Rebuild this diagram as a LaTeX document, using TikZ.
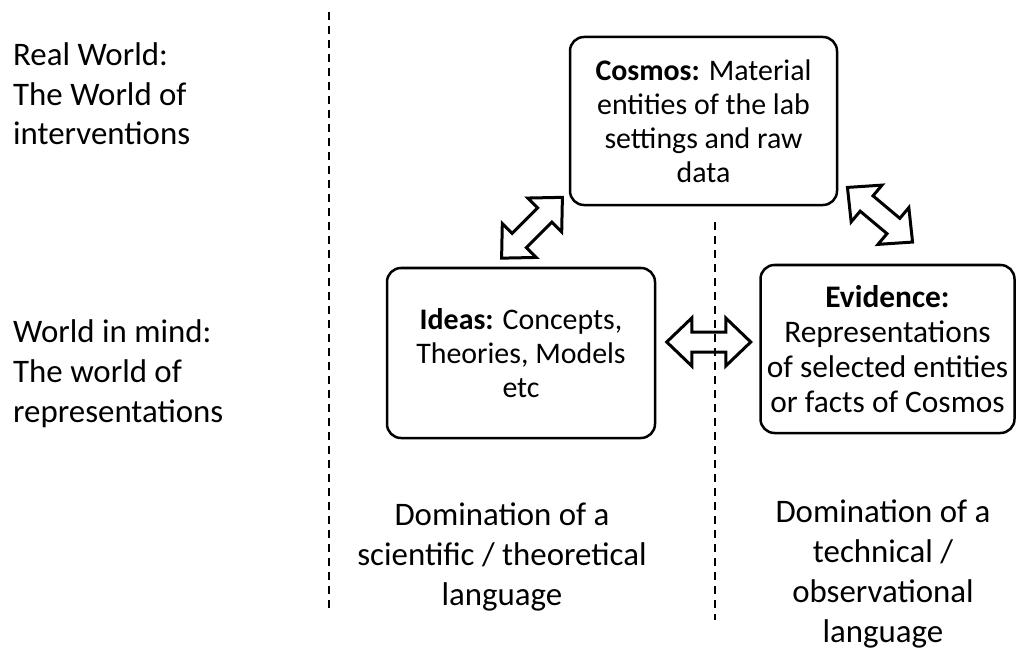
\documentclass[tikz,border=0pt]{standalone}
\usepackage{fontspec}
\setmainfont{Carlito}
\usetikzlibrary{positioning,calc}

\tikzset{
  box/.style={draw, line width=2.5bp, rounded corners=14bp, align=center,
    inner sep=0pt, font=\fontsize{30}{34}\selectfont},
  side/.style={align=left, inner sep=0pt, anchor=base west,
    font=\fontsize{33}{40}\selectfont},
  lang/.style={align=center, inner sep=0pt, anchor=base,
    font=\fontsize{33}{40}\selectfont},
  divider/.style={line width=2.5bp, dash pattern=on 8bp off 6bp},
  arrowline/.style={draw, fill=white, line width=3bp, line join=miter},
  dblarrow/.pic={
    \pgfmathsetmacro\halflen{#1/2}
    \path[arrowline] (-\halflen,0) -- ++(25,24) -- ++(0,-14)
      -- (\halflen-25,10) -- ++(0,14) -- (\halflen,0) -- ++(-25,-24)
      -- ++(0,14) -- (-\halflen+25,-10) -- ++(0,-14) -- cycle;
  }
}

\begin{document}
\begin{tikzpicture}[x=1bp, y=-1bp]
    \useasboundingbox (0,0) rectangle (1017,651);

    % Left column labels (base = last line)
    \node[side] (realworld) at (13,145) {Real World:\\The World of\\interventions};
    \node[side] (mindworld) at (13,422) {World in mind:\\The world of\\representations};

    % The three boxes
    \node[box, minimum width=267bp, minimum height=168bp] (cosmos) at (703.5,121)
        {\textbf{Cosmos:} Material\\entities of the lab\\settings and raw\\data};
    \node[box, minimum width=268bp, minimum height=170bp] (ideas) at (521,353)
        {\textbf{Ideas:} Concepts,\\Theories, Models\\etc};
    \node[box, minimum width=254bp, minimum height=168bp,
          font=\fontsize{31.5}{35}\selectfont] (evidence) at (887.5,349)
        {\textbf{Evidence:}\\Representations\\of selected entities\\or facts of Cosmos};

    % Block arrows between the boxes
    \pic[rotate=45]  at ($(ideas.north)+(11,-39)$) {dblarrow=86};
    \pic[rotate=-40] at ($(evidence.north)+(-7.5,-49)$) {dblarrow=85};
    \pic at ($(ideas.east)!0.5!(evidence.west)+(1,-9)$) {dblarrow=84};

    % Dashed dividers
    \draw[divider] (329,12) -- (329,608);
    \draw[divider, line width=2bp] (715,222) -- (715,620);

    % Language labels
    \node[lang] (scilang) at (502,605) {Domination of a\\scientific / theoretical\\language};
    \node[lang] (techlang) at (883,642) {Domination of a\\technical /\\observational\\language};
\end{tikzpicture}
\end{document}
